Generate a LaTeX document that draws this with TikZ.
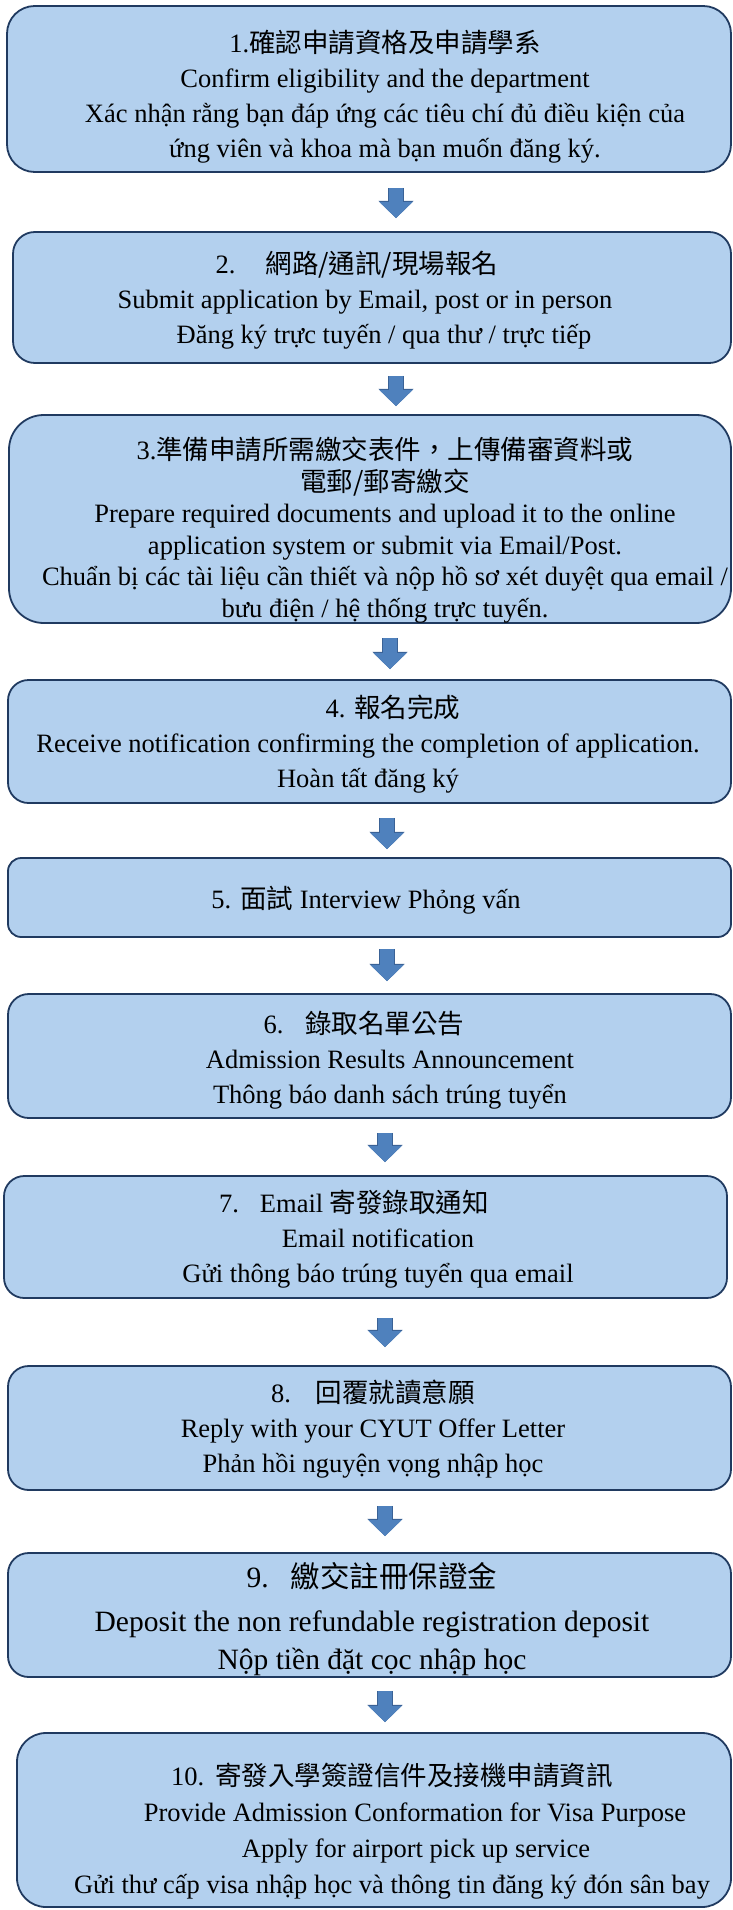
\documentclass[tikz,border=0pt]{standalone}
\usepackage{fontspec}
\setmainfont{Liberation Serif}
\newfontfamily\cjk{Noto Sans CJK TC}
\usetikzlibrary{arrows.meta}
\definecolor{boxfill}{RGB}{179,208,238}
\definecolor{boxedge}{RGB}{32,58,96}
\definecolor{flowfill}{RGB}{79,129,189}
\definecolor{flowedge}{RGB}{58,98,150}
\tikzset{
stepbox/.style={ % rounded frame of one step
  draw=boxedge,
  fill=boxfill,
  line width=1.8pt,
  rounded corners=#1,
  inner sep=0pt},
steptext/.style={ % the lines inside a step
  align=center,
  inner sep=0pt,
  font=\fontsize{26.5}{35}\selectfont},
flow/.style={ % block arrow from one step to the next
  draw=flowfill,
  line width=14pt,
  -{Triangle[width=33pt,length=16pt,line width=0pt]},
  preaction={draw=flowedge, line width=15.6pt,
    -{Triangle[width=35.4pt,length=17.3pt,line width=0pt]}}}
}

\begin{document}
\begin{tikzpicture}[x=1pt,y=-1pt]
\useasboundingbox (0,0) rectangle (732,1910);

% frames
\node[stepbox=27.7pt, minimum width=724pt, minimum height=166pt] (s1) at (369,89) {};
\node[stepbox=21.8pt, minimum width=718pt, minimum height=131pt] (s2) at (372,297.5) {};
\node[stepbox=34.7pt, minimum width=722pt, minimum height=208pt] (s3) at (370,519) {};
\node[stepbox=20.5pt, minimum width=723pt, minimum height=123pt] (s4) at (369.5,741.5) {};
\node[stepbox=13.2pt, minimum width=723pt, minimum height=79pt] (s5) at (369.5,897.5) {};
\node[stepbox=20.7pt, minimum width=723pt, minimum height=124pt] (s6) at (369.5,1056) {};
\node[stepbox=20.3pt, minimum width=723pt, minimum height=122pt] (s7) at (365.5,1237) {};
\node[stepbox=20.7pt, minimum width=723pt, minimum height=124pt] (s8) at (369.5,1428) {};
\node[stepbox=20.7pt, minimum width=723pt, minimum height=124pt] (s9) at (369.5,1615) {};
\node[stepbox=29pt, minimum width=714pt, minimum height=174pt] (s10) at (374,1820) {};

% texts
\node[steptext] (t1) at (385,97) {1.{\cjk 確認申請資格及申請學系}\\
  Confirm eligibility and the department\\
  Xác nhận rằng bạn đáp ứng các tiêu chí đủ điều kiện của\\
  ứng viên và khoa mà bạn muốn đăng ký.};
\node[steptext] (t2) at (365,300) {\hspace*{-16pt}2.\hspace{30pt}{\cjk 網路/通訊/現場報名}\\
  Submit application by Email, post or in person\\
  \hspace*{38pt}Đăng ký trực tuyến / qua thư / trực tiếp};
\node[steptext, font=\fontsize{26.5}{31.5}\selectfont] (t3) at (385,530) {3.{\cjk 準備申請所需繳交表件，上傳備審資料或}\\
  {\cjk 電郵/郵寄繳交}\\
  Prepare required documents and upload it to the online\\
  application system or submit via Email/Post.\\
  Chuẩn bị các tài liệu cần thiết và nộp hồ sơ xét duyệt qua email /\\
  bưu điện / hệ thống trực tuyến.};
\node[steptext] (t4) at (368,744) {\hspace*{50pt}4. {\cjk 報名完成}\\
  Receive notification confirming the completion of application.\\
  Hoàn tất đăng ký};
\node[steptext] (t5) at (366,900) {5. {\cjk 面試} Interview Phỏng vấn};
\node[steptext] (t6) at (390,1060) {\hspace*{-52pt}6.\hspace{22pt}{\cjk 錄取名單公告}\\
  Admission Results Announcement\\
  Thông báo danh sách trúng tuyển};
\node[steptext] (t7) at (378,1239) {\hspace*{-48pt}7.\hspace{21pt}Email {\cjk 寄發錄取通知}\\
  Email notification\\
  Gửi thông báo trúng tuyển qua email};
\node[steptext] (t8) at (373,1429) {8.\hspace{25pt}{\cjk 回覆就讀意願}\\
  Reply with your CYUT Offer Letter\\
  Phản hồi nguyện vọng nhập học};
\node[steptext, font=\fontsize{29.5}{38}\selectfont] (t9) at (372,1619) {9.\hspace{22pt}{\cjk 繳交註冊保證金}\\[6pt]
  Deposit the non refundable registration deposit\\
  Nộp tiền đặt cọc nhập học};
\node[steptext, font=\fontsize{26.5}{36}\selectfont] (t10) at (392,1831) {10.\hspace{11pt}{\cjk 寄發入學簽證信件及接機申請資訊}\\
  \hspace*{46pt}Provide Admission Conformation for Visa Purpose\\
  \hspace*{48pt}Apply for airport pick up service\\
  Gửi thư cấp visa nhập học và thông tin đăng ký đón sân bay};

% arrow columns
\coordinate (c1) at (396,0);
\coordinate (c2) at (390,0);
\coordinate (c3) at (387,0);
\coordinate (c4) at (385,0);

\draw[flow, shorten <=15pt, shorten >=13pt] (s1.south -| c1) -- (s2.north -| c1);
\draw[flow, shorten <=12pt, shorten >=8pt] (s2.south -| c1) -- (s3.north -| c1);
\draw[flow, shorten <=14pt, shorten >=10pt] (s3.south -| c2) -- (s4.north -| c2);
\draw[flow, shorten <=14pt, shorten >=8pt] (s4.south -| c3) -- (s5.north -| c3);
\draw[flow, shorten <=11pt, shorten >=12pt] (s5.south -| c3) -- (s6.north -| c3);
\draw[flow, shorten <=14pt, shorten >=13pt] (s6.south -| c4) -- (s7.north -| c4);
\draw[flow, shorten <=19pt, shorten >=18pt] (s7.south -| c4) -- (s8.north -| c4);
\draw[flow, shorten <=15pt, shorten >=16pt] (s8.south -| c4) -- (s9.north -| c4);
\draw[flow, shorten <=13pt, shorten >=10pt] (s9.south -| c4) -- (s10.north -| c4);
\end{tikzpicture}
\end{document}
